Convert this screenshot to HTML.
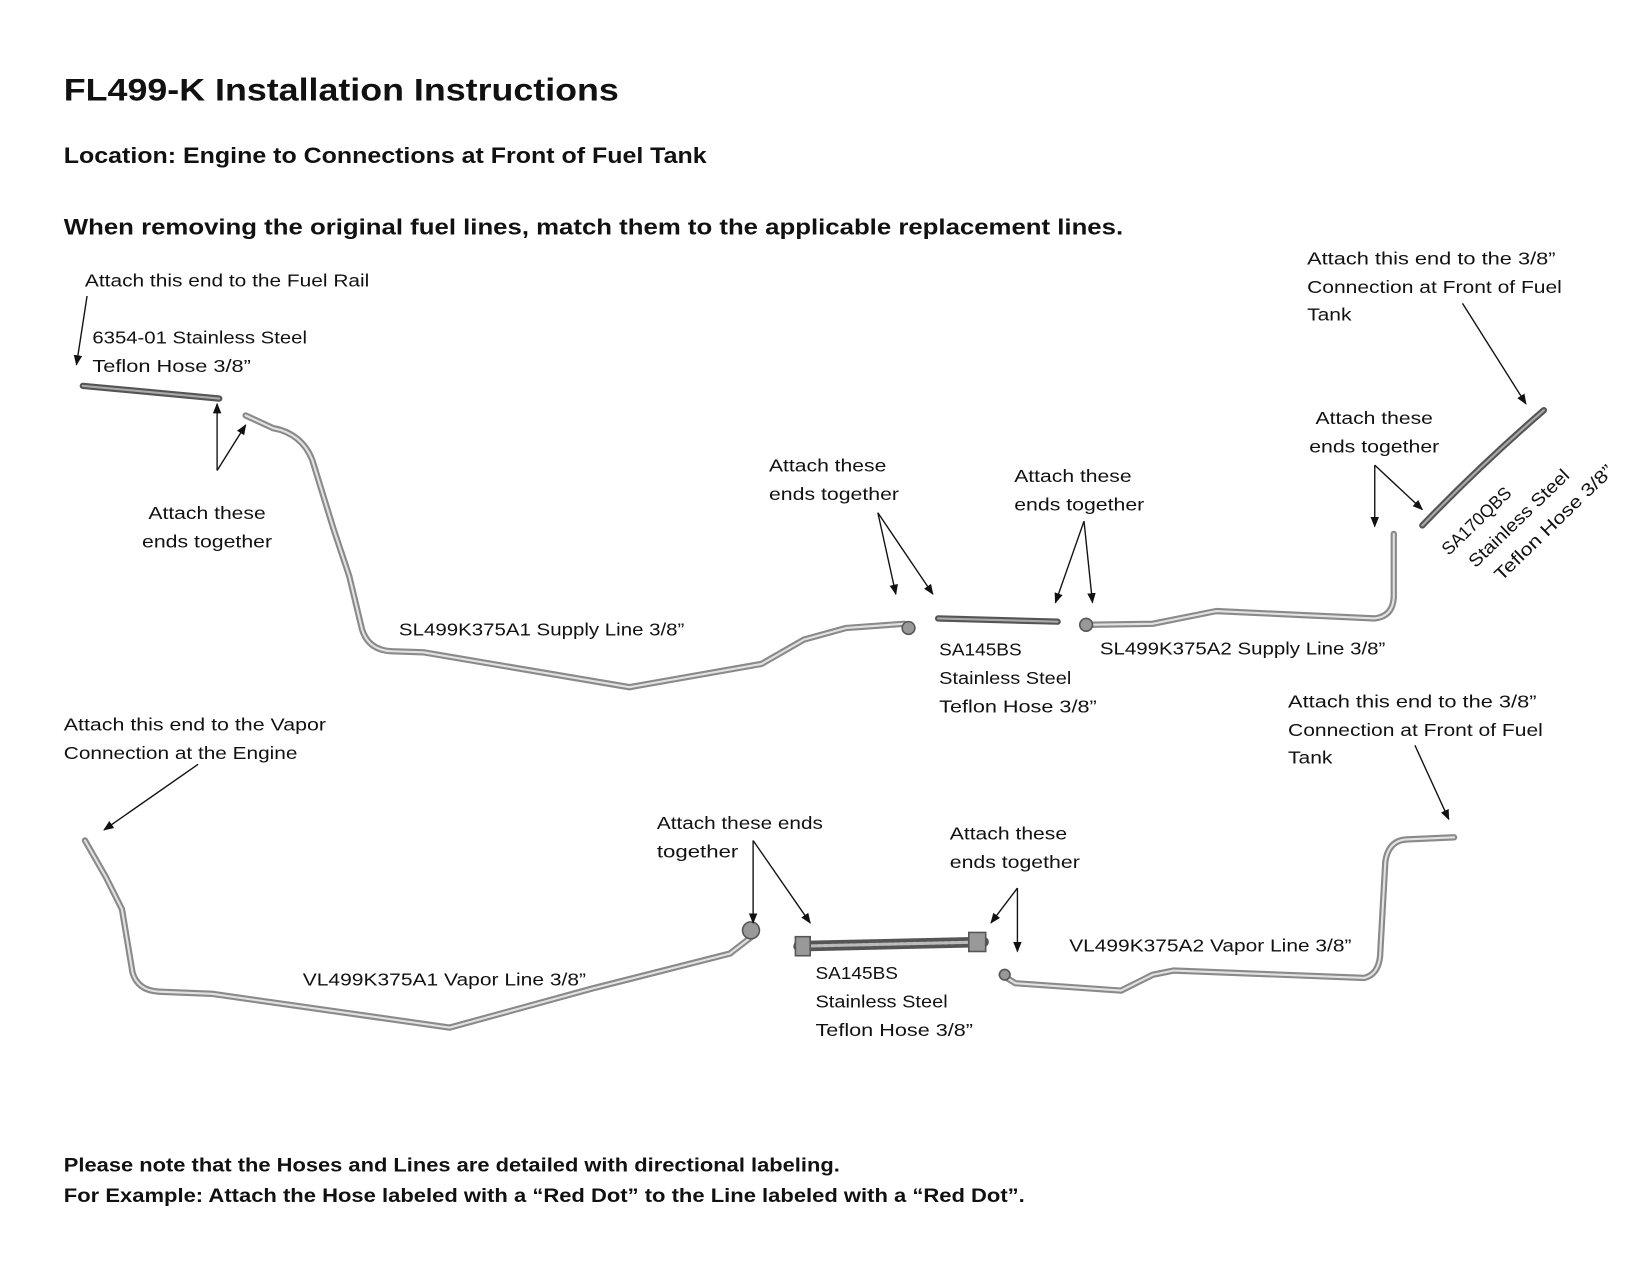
<!DOCTYPE html>
<html><head><meta charset="utf-8"><style>
html,body{margin:0;padding:0;background:#fff}
svg{display:block}
text{font-family:"Liberation Sans",sans-serif;fill:#111}
.l{font-size:17px}
.b{font-weight:bold}
</style></head><body>
<svg width="1650" height="1275" viewBox="0 0 1560 1206" xmlns="http://www.w3.org/2000/svg">
<defs>
<marker id="a" markerWidth="10" markerHeight="10" refX="9" refY="5" orient="auto" markerUnits="userSpaceOnUse"><path d="M0,1 L10,5 L0,9 z" fill="#111"/></marker>
</defs>
<rect width="1560" height="1206" fill="#fff"/>
<text x="60" y="95" class="b" font-size="30" textLength="525" lengthAdjust="spacingAndGlyphs">FL499-K Installation Instructions</text>
<text x="60" y="154" class="b" font-size="21" textLength="608" lengthAdjust="spacingAndGlyphs">Location: Engine to Connections at Front of Fuel Tank</text>
<text x="60" y="222" class="b" font-size="21" textLength="1002" lengthAdjust="spacingAndGlyphs">When removing the original fuel lines, match them to the applicable replacement lines.</text>

<g class="l">
<text x="80" y="271" textLength="269" lengthAdjust="spacingAndGlyphs">Attach this end to the Fuel Rail</text>
<text x="87" y="325" textLength="203" lengthAdjust="spacingAndGlyphs">6354-01 Stainless Steel</text>
<text x="87" y="352" textLength="150" lengthAdjust="spacingAndGlyphs">Teflon Hose 3/8”</text>
<text x="140" y="491" textLength="111" lengthAdjust="spacingAndGlyphs">Attach these</text>
<text x="134" y="518" textLength="123" lengthAdjust="spacingAndGlyphs">ends together</text>
<text x="377" y="601" textLength="270" lengthAdjust="spacingAndGlyphs">SL499K375A1 Supply Line 3/8”</text>
<text x="727" y="446" textLength="111" lengthAdjust="spacingAndGlyphs">Attach these</text>
<text x="727" y="473" textLength="123" lengthAdjust="spacingAndGlyphs">ends together</text>
<text x="959" y="456" textLength="111" lengthAdjust="spacingAndGlyphs">Attach these</text>
<text x="959" y="483" textLength="123" lengthAdjust="spacingAndGlyphs">ends together</text>
<text x="888" y="620" textLength="78" lengthAdjust="spacingAndGlyphs">SA145BS</text>
<text x="888" y="647" textLength="125" lengthAdjust="spacingAndGlyphs">Stainless Steel</text>
<text x="888" y="674" textLength="149" lengthAdjust="spacingAndGlyphs">Teflon Hose 3/8”</text>
<text x="1040" y="619" textLength="270" lengthAdjust="spacingAndGlyphs">SL499K375A2 Supply Line 3/8”</text>
<text x="1236" y="250" textLength="235" lengthAdjust="spacingAndGlyphs">Attach this end to the 3/8”</text>
<text x="1236" y="277" textLength="241" lengthAdjust="spacingAndGlyphs">Connection at Front of Fuel</text>
<text x="1236" y="303" textLength="42" lengthAdjust="spacingAndGlyphs">Tank</text>
<text x="1244" y="401" textLength="111" lengthAdjust="spacingAndGlyphs">Attach these</text>
<text x="1238" y="428" textLength="123" lengthAdjust="spacingAndGlyphs">ends together</text>
<g transform="translate(1370,526) rotate(-44)">
<text x="0" y="0" textLength="84" lengthAdjust="spacingAndGlyphs">SA170QBS</text>
<text x="10" y="26" textLength="125" lengthAdjust="spacingAndGlyphs">Stainless Steel</text>
<text x="19" y="52" textLength="149" lengthAdjust="spacingAndGlyphs">Teflon Hose 3/8”</text>
</g>
<text x="60" y="691" textLength="248" lengthAdjust="spacingAndGlyphs">Attach this end to the Vapor</text>
<text x="60" y="718" textLength="221" lengthAdjust="spacingAndGlyphs">Connection at the Engine</text>
<text x="1218" y="669" textLength="235" lengthAdjust="spacingAndGlyphs">Attach this end to the 3/8”</text>
<text x="1218" y="696" textLength="241" lengthAdjust="spacingAndGlyphs">Connection at Front of Fuel</text>
<text x="1218" y="722" textLength="42" lengthAdjust="spacingAndGlyphs">Tank</text>
<text x="621" y="784" textLength="157" lengthAdjust="spacingAndGlyphs">Attach these ends</text>
<text x="621" y="811" textLength="77" lengthAdjust="spacingAndGlyphs">together</text>
<text x="898" y="794" textLength="111" lengthAdjust="spacingAndGlyphs">Attach these</text>
<text x="898" y="821" textLength="123" lengthAdjust="spacingAndGlyphs">ends together</text>
<text x="286" y="932" textLength="268" lengthAdjust="spacingAndGlyphs">VL499K375A1 Vapor Line 3/8”</text>
<text x="771" y="926" textLength="78" lengthAdjust="spacingAndGlyphs">SA145BS</text>
<text x="771" y="953" textLength="125" lengthAdjust="spacingAndGlyphs">Stainless Steel</text>
<text x="771" y="980" textLength="149" lengthAdjust="spacingAndGlyphs">Teflon Hose 3/8”</text>
<text x="1011" y="900" textLength="267" lengthAdjust="spacingAndGlyphs">VL499K375A2 Vapor Line 3/8”</text>
</g>
<text x="60" y="1108" class="b" font-size="18" textLength="734" lengthAdjust="spacingAndGlyphs">Please note that the Hoses and Lines are detailed with directional labeling.</text>
<text x="60" y="1137" class="b" font-size="18" textLength="909" lengthAdjust="spacingAndGlyphs">For Example: Attach the Hose labeled with a “Red Dot” to the Line labeled with a “Red Dot”.</text>

<g fill="none" stroke-linecap="round" stroke-linejoin="round">
<g stroke="#8a8a8a" stroke-width="6">
<path d="M232,393 L258,405 Q285,410 295,435 L315,500 L330,545 L342,595 Q348,615 370,616 L400,617 L595,650 L720,628 L760,605 L800,594 L855,590"/>
<path d="M1025,591 L1090,590 L1150,578 L1300,585 Q1317,583 1318,565 L1318,505"/>
<path d="M80,795 L100,830 L115,860 L125,920 Q130,937 150,938 L200,940 L425,972 L560,935 L690,902 L712,885"/>
<path d="M947,922 L960,930 L1060,937 L1090,922 L1110,918 L1290,925 Q1303,922 1305,905 L1310,815 Q1313,795 1330,794 L1375,792"/>
</g>
<g stroke="#e2e2e2" stroke-width="2">
<path d="M232,393 L258,405 Q285,410 295,435 L315,500 L330,545 L342,595 Q348,615 370,616 L400,617 L595,650 L720,628 L760,605 L800,594 L855,590"/>
<path d="M1025,591 L1090,590 L1150,578 L1300,585 Q1317,583 1318,565 L1318,505"/>
<path d="M80,795 L100,830 L115,860 L125,920 Q130,937 150,938 L200,940 L425,972 L560,935 L690,902 L712,885"/>
<path d="M947,922 L960,930 L1060,937 L1090,922 L1110,918 L1290,925 Q1303,922 1305,905 L1310,815 Q1313,795 1330,794 L1375,792"/>
</g>
<g stroke="#555" stroke-width="6">
<path d="M78,365 L207,377"/>
<path d="M887,585 L1000,588"/>
<path d="M1345,497 Q1400,440 1460,388"/>
</g>
<g stroke="#aaa" stroke-width="2">
<path d="M78,365 L207,377"/>
<path d="M887,585 L1000,588"/>
<path d="M1345,497 Q1400,440 1460,388"/>
</g>
<path d="M755,895 L930,891" stroke="#555" stroke-width="10"/>
<path d="M755,895 L930,891" stroke="#bbb" stroke-width="3" stroke-dasharray="4 2"/>
</g>
<g fill="#999" stroke="#555" stroke-width="1.5">
<circle cx="859" cy="594" r="6"/><circle cx="1027" cy="591" r="6"/><circle cx="710" cy="880" r="8"/>
<rect x="752" y="886" width="14" height="18"/><rect x="916" y="882" width="16" height="18"/>
<circle cx="950" cy="922" r="5"/>
</g>

<g stroke="#111" stroke-width="1.3" fill="none" marker-end="url(#a)">
<line x1="82" y1="280" x2="72" y2="345"/>
<line x1="205" y1="445" x2="205" y2="382"/>
<line x1="205" y1="445" x2="232" y2="402"/>
<line x1="830" y1="485" x2="847" y2="562"/>
<line x1="830" y1="485" x2="882" y2="562"/>
<line x1="1025" y1="493" x2="998" y2="570"/>
<line x1="1025" y1="493" x2="1033" y2="570"/>
<line x1="1300" y1="440" x2="1300" y2="498"/>
<line x1="1300" y1="440" x2="1345" y2="482"/>
<line x1="1383" y1="287" x2="1443" y2="382"/>
<line x1="187" y1="723" x2="98" y2="785"/>
<line x1="712" y1="795" x2="712" y2="873"/>
<line x1="712" y1="795" x2="766" y2="873"/>
<line x1="962" y1="840" x2="937" y2="873"/>
<line x1="962" y1="840" x2="962" y2="900"/>
<line x1="1338" y1="705" x2="1370" y2="775"/>
</g>
</svg>
</body></html>
